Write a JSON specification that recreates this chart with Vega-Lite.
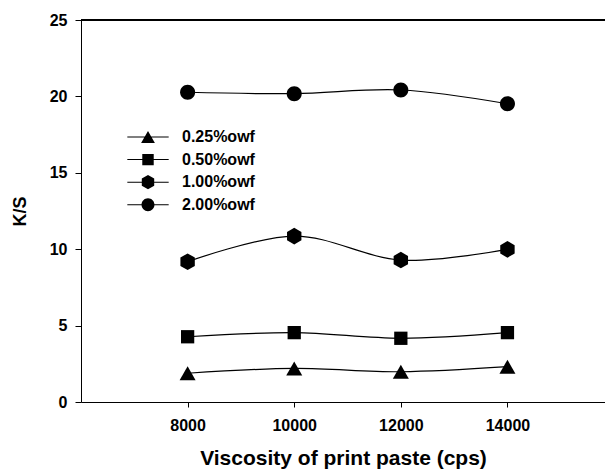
{
  "$schema": "https://vega.github.io/schema/vega-lite/v6.json",
  "width": 524,
  "height": 382,
  "autosize": {"type": "none"},
  "padding": {"left": 81, "top": 20, "right": 0, "bottom": 73},
  "background": "white",
  "config": {
    "view": {"stroke": null},
    "font": "Liberation Sans",
    "axis": {
      "domainColor": "black",
      "tickColor": "black",
      "labelColor": "black",
      "titleColor": "black",
      "labelFont": "Liberation Sans",
      "titleFont": "Liberation Sans",
      "labelFontWeight": "bold",
      "titleFontWeight": "bold",
      "labelFontSize": 16,
      "grid": false
    }
  },
  "data": {
    "values": [
      {"v": 8000, "ks": 1.88, "s": "0.25%owf"},
      {"v": 10000, "ks": 2.2, "s": "0.25%owf"},
      {"v": 12000, "ks": 1.98, "s": "0.25%owf"},
      {"v": 14000, "ks": 2.31, "s": "0.25%owf"},
      {"v": 8000, "ks": 4.27, "s": "0.50%owf"},
      {"v": 10000, "ks": 4.54, "s": "0.50%owf"},
      {"v": 12000, "ks": 4.17, "s": "0.50%owf"},
      {"v": 14000, "ks": 4.54, "s": "0.50%owf"},
      {"v": 8000, "ks": 9.18, "s": "1.00%owf"},
      {"v": 10000, "ks": 10.86, "s": "1.00%owf"},
      {"v": 12000, "ks": 9.29, "s": "1.00%owf"},
      {"v": 14000, "ks": 9.99, "s": "1.00%owf"},
      {"v": 8000, "ks": 20.27, "s": "2.00%owf"},
      {"v": 10000, "ks": 20.18, "s": "2.00%owf"},
      {"v": 12000, "ks": 20.42, "s": "2.00%owf"},
      {"v": 14000, "ks": 19.52, "s": "2.00%owf"}
    ]
  },
  "encoding": {
    "x": {
      "field": "v",
      "type": "quantitative",
      "scale": {"domain": [6000, 15830], "nice": false, "zero": false},
      "axis": {
        "title": "Viscosity of print paste (cps)",
        "titleFontSize": 21,
        "titlePadding": 14,
        "values": [8000, 10000, 12000, 14000],
        "format": "d",
        "labelFlush": false,
        "tickSize": 5,
        "labelPadding": 10
      }
    },
    "y": {
      "field": "ks",
      "type": "quantitative",
      "scale": {"domain": [0, 25], "nice": false},
      "axis": {
        "title": "K/S",
        "titleFontSize": 18,
        "titlePadding": 20,
        "values": [0, 5, 10, 15, 20, 25],
        "tickSize": 6,
        "labelPadding": 8
      }
    }
  },
  "layer": [
    {
      "mark": {"type": "rule", "color": "black", "strokeWidth": 1},
      "encoding": {"y": {"datum": 25}, "x": null}
    },
    {
      "mark": {"type": "line", "color": "black", "strokeWidth": 1.2, "interpolate": "cardinal"},
      "encoding": {"detail": {"field": "s"}}
    },
    {
      "mark": {"type": "point", "filled": true, "color": "black", "opacity": 0, "size": 196},
      "encoding": {
        "shape": {
          "field": "s",
          "type": "nominal",
          "scale": {
            "domain": ["0.25%owf", "0.50%owf", "1.00%owf", "2.00%owf"],
            "range": [
              "M-3,-0.07H3V0.07H-3ZM0,-0.875L1,0.875L-1,0.875Z",
              "M-3,-0.07H3V0.07H-3ZM-0.83,-0.83H0.83V0.83H-0.83Z",
              "M-3,-0.07H3V0.07H-3ZM0,-1.04L0.9,-0.52L0.9,0.52L0,1.04L-0.9,0.52L-0.9,-0.52Z",
              "M-3,-0.07H3V0.07H-3ZM0.94,0A0.94,0.94,0,1,1,-0.94,0A0.94,0.94,0,1,1,0.94,0Z"
            ]
          },
          "legend": {
            "title": null,
            "orient": "none",
            "legendX": 59,
            "legendY": 109,
            "padding": 0,
            "symbolSize": 190,
            "symbolFillColor": "black",
            "symbolStrokeColor": "transparent",
            "symbolStrokeWidth": 0,
            "symbolOpacity": 1,
            "labelFontSize": 16,
            "labelFontWeight": "bold",
            "labelColor": "black",
            "labelFont": "Liberation Sans",
            "labelOffset": 26,
            "rowPadding": 6.6,
            "encode": {
              "symbols": {
                "update": {
                  "fill": {"value": "black"},
                  "opacity": {"value": 1},
                  "fillOpacity": {"value": 1}
                }
              }
            }
          }
        }
      }
    },
    {
      "mark": {"type": "point", "filled": true, "color": "black", "opacity": 1, "size": 256},
      "encoding": {
        "shape": {
          "field": "s",
          "type": "nominal",
          "scale": {
            "domain": ["0.25%owf", "0.50%owf", "1.00%owf", "2.00%owf"],
            "range": [
              "M0,-0.875L1,0.875L-1,0.875Z",
              "M-0.83,-0.83H0.83V0.83H-0.83Z",
              "M0,-1.04L0.9,-0.52L0.9,0.52L0,1.04L-0.9,0.52L-0.9,-0.52Z",
              "M0.94,0A0.94,0.94,0,1,1,-0.94,0A0.94,0.94,0,1,1,0.94,0Z"
            ]
          },
          "legend": null
        }
      }
    }
  ],
  "resolve": {"scale": {"shape": "independent"}, "legend": {"shape": "independent"}}
}
